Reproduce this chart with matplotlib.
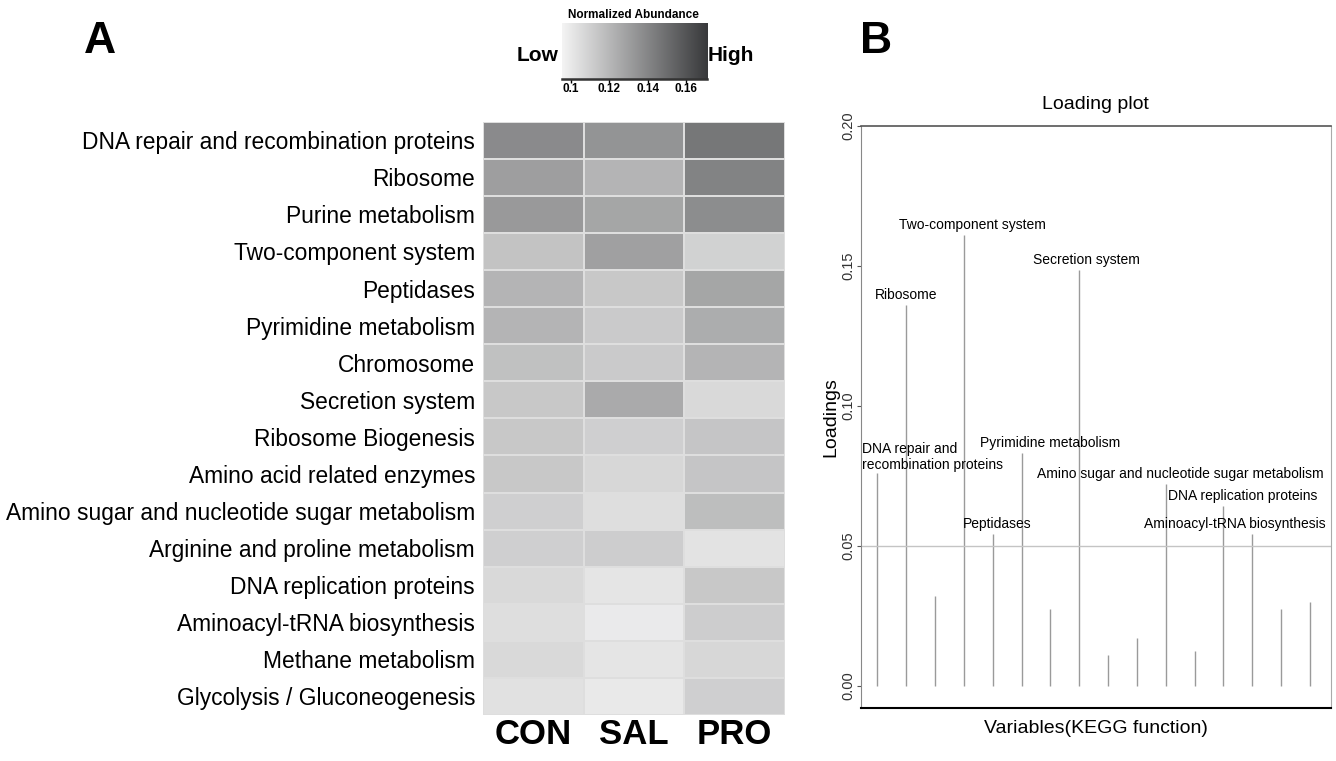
import numpy as np
import matplotlib
matplotlib.use("Agg")
import matplotlib.pyplot as plt
from matplotlib.colors import LinearSegmentedColormap

plt.rcParams['font.family'] = ['Liberation Sans', 'DejaVu Sans']

pathways = ["DNA repair and recombination proteins", "Ribosome", "Purine metabolism",
            "Two-component system", "Peptidases", "Pyrimidine metabolism", "Chromosome",
            "Secretion system", "Ribosome Biogenesis", "Amino acid related enzymes",
            "Amino sugar and nucleotide sugar metabolism", "Arginine and proline metabolism",
            "DNA replication proteins", "Aminoacyl-tRNA biosynthesis", "Methane metabolism",
            "Glycolysis / Gluconeogenesis"]
groups = ["CON", "SAL", "PRO"]

# normalized abundance per pathway (read from grey levels)
con = [0.138, 0.130, 0.132, 0.115, 0.121, 0.121, 0.116, 0.113, 0.113, 0.113, 0.110, 0.110, 0.106, 0.104, 0.106, 0.103]
sal = [0.134, 0.121, 0.127, 0.129, 0.113, 0.112, 0.112, 0.125, 0.110, 0.107, 0.104, 0.111, 0.101, 0.099, 0.101, 0.0995]
pro = [0.146, 0.141, 0.137, 0.109, 0.127, 0.124, 0.121, 0.106, 0.114, 0.114, 0.117, 0.102, 0.113, 0.111, 0.107, 0.110]

cbar_ticks = [0.10, 0.12, 0.14, 0.16]
cbar_ticklabels = ["0.1", "0.12", "0.14", "0.16"]

# loadings, same order as pathways
loadings = [0.076, 0.136, 0.032, 0.161, 0.054, 0.083, 0.0275, 0.1485,
            0.011, 0.017, 0.072, 0.0125, 0.064, 0.054, 0.0275, 0.030]
labelled = {1: "Ribosome", 3: "Two-component system",
            4: "Peptidases", 5: "Pyrimidine metabolism", 7: "Secretion system",
            10: "Amino sugar and nucleotide sugar metabolism", 12: "DNA replication proteins",
            13: "Aminoacyl-tRNA biosynthesis"}
# label x shifts (in variable units) relative to the stem
label_dx = {1: 0.0, 3: 0.3, 4: 0.16, 5: 1.0, 7: 0.24, 10: 0.51, 12: 0.66, 13: -0.61}

fig = plt.figure(figsize=(13.36, 7.61), dpi=100)

cmap = LinearSegmentedColormap.from_list("abund", ["#f4f4f4", "#38393b"])
vmin, vmax = 0.095, 0.171

# ---- A: heatmap
ax = fig.add_axes([0.3618, 0.0604, 0.2258, 0.7797])
data = np.array([con, sal, pro]).T
ax.pcolormesh(data, cmap=cmap, vmin=vmin, vmax=vmax, edgecolors='#dedede', linewidth=0.2)
ax.set_xlim(0, 3)
ax.set_ylim(len(pathways), 0)
ax.set_yticks(np.arange(len(pathways)) + 0.5)
ax.set_yticklabels(pathways, fontsize=16.4)
ax.set_xticks(np.arange(3) + 0.5)
ax.set_xticklabels(groups, fontsize=25, fontweight='bold')
ax.tick_params(axis='y', length=0, pad=6)
ax.tick_params(axis='x', length=0, pad=2)
for s in ax.spines.values():
    s.set_visible(False)

fig.text(0.075, 0.945, "A", fontsize=32, fontweight='bold', ha='center', va='center')

# colour key
cax = fig.add_axes([0.4204, 0.8958, 0.1086, 0.0744])
grad = np.linspace(vmin, vmax, 256).reshape(1, -1)
cax.imshow(grad, cmap=cmap, vmin=vmin, vmax=vmax, aspect='auto', extent=[vmin, vmax, 0, 1])
cax.set_xlim(vmin, vmax)
cax.set_yticks([])
cax.set_xticks(cbar_ticks)
cax.set_xticklabels(cbar_ticklabels, fontsize=8.5, fontweight='bold')
cax.tick_params(axis='x', length=3, width=1, pad=0)
for k in ['top', 'left', 'right']:
    cax.spines[k].set_visible(False)
cax.spines['bottom'].set_linewidth(1.8)
cax.spines['bottom'].set_color('#333333')
fig.text(0.4738, 0.980, "Normalized Abundance", fontsize=8.5, fontweight='bold', ha='center', va='center')
fig.text(0.4025, 0.927, "Low", fontsize=15, fontweight='bold', ha='center', va='center')
fig.text(0.5469, 0.927, "High", fontsize=15, fontweight='bold', ha='center', va='center')

# ---- B: loading plot
bx = fig.add_axes([0.6442, 0.0700, 0.3521, 0.7648])
xs = np.arange(1, len(loadings) + 1)
bx.vlines(xs, 0, loadings, color='#9a9a9a', linewidth=1)
bx.axhline(0.05, color='#c4c4c4', linewidth=1)
for i, txt in labelled.items():
    bx.text(xs[i] + label_dx[i], loadings[i] + 0.0012, txt, fontsize=10, ha='center', va='bottom')
# two-line label for the first stem, left aligned at the axis edge
bx.text(xs[0] - 0.54, loadings[0] + 0.0002, "recombination proteins", fontsize=10, ha='left', va='bottom')
bx.text(xs[0] - 0.54, loadings[0] + 0.0060, "DNA repair and", fontsize=10, ha='left', va='bottom')
bx.set_xlim(0.42, 16.73)
bx.set_ylim(-0.0079, 0.2)
bx.set_yticks([0.0, 0.05, 0.10, 0.15, 0.20])
bx.set_yticklabels(["0.00", "0.05", "0.10", "0.15", "0.20"], rotation=90, va='center', fontsize=10.5,
                   color='#333333')
bx.set_xticks([])
bx.tick_params(axis='y', length=3, width=0.8, color='#555555', pad=0.5)
bx.spines['left'].set_color('#888888')
bx.spines['right'].set_color('#aaaaaa')
bx.spines['top'].set_color('#555555')
bx.spines['top'].set_linewidth(1.2)
bx.spines['bottom'].set_color('black')
bx.spines['bottom'].set_linewidth(1.5)
bx.set_title("Loading plot", fontsize=14, pad=12)
bx.set_ylabel("Loadings", fontsize=14, labelpad=2)
bx.set_xlabel("Variables(KEGG function)", fontsize=14, labelpad=9)

fig.text(0.656, 0.945, "B", fontsize=32, fontweight='bold', ha='center', va='center')

fig.savefig("out.png", dpi=100)
